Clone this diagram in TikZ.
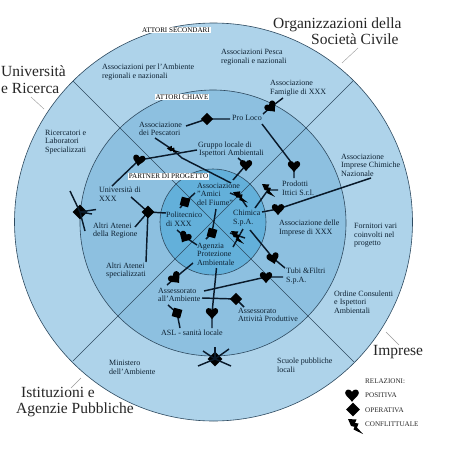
\documentclass[tikz,border=0pt]{standalone}
\usepackage{fontspec}
\setmainfont{Liberation Serif}
\usetikzlibrary{shapes.geometric}
\definecolor{ringA}{HTML}{AED3EA}
\definecolor{ringB}{HTML}{8DC0E0}
\definecolor{ringC}{HTML}{63B0DA}
\definecolor{edgeC}{HTML}{2E4A60}
\definecolor{inkC}{HTML}{0E2233}
\definecolor{lineC}{HTML}{0A1A2A}
\tikzset{
  x=1pt,y=-1pt,
  disc/.style={circle,draw=edgeC,line width=.6pt,inner sep=0pt,minimum size=#1},
  divider/.style={draw=edgeC,line width=.5pt},
  leader/.style={draw=gray!80,line width=.4pt},
  lab/.style={font=\fontsize{8}{8.6}\selectfont,text=inkC,align=left,anchor=west,inner sep=0pt},
  big/.style={font=\fontsize{15.5}{16.6}\selectfont,text=black!85,align=left,anchor=west,inner sep=0pt},
  ring/.style={font=\fontsize{7.1}{8}\selectfont,fill=white,text=black,inner sep=1pt},
  legendt/.style={font=\fontsize{7.1}{8}\selectfont,text=black!85,anchor=west,inner sep=0pt},
  conn/.style={draw=lineC,line width=1.45pt},
  dia/.style={diamond,fill=black,inner sep=0pt,minimum size=#1},
  dia/.default=12.5pt,
  pics/heartp/.style={code={
    \fill[black] (0,6.5) .. controls (-2,3) and (-6.5,1) .. (-6.5,-2) .. controls (-6.5,-5.5) and (-2,-6.5) .. (0,-3) .. controls (2,-6.5) and (6.5,-5.5) .. (6.5,-2) .. controls (6.5,1) and (2,3) .. (0,6.5) -- cycle;}},
  pics/boltp/.style={code={
    \fill[black] (-7,-7) -- (1.5,-6.5) -- (0,-3) -- (3.5,-2.5) -- (2,1.5) -- (8,8) -- (-1.5,3.5) -- (-.5,.8) -- (-4,0) -- cycle;}}
}
\begin{document}
\begin{tikzpicture}
\useasboundingbox (0,0) rectangle (450,450);
\fill[white] (0,0) rectangle (450,450);
% rings
\node[disc=398pt,fill=ringA] (outer) at (213.5,222) {};
\node[disc=266pt,fill=ringB] (middle) at (213,223) {};
\node[disc=106pt,fill=ringC] (inner) at (213,222) {};
% dividers
\coordinate (dA) at (73,81); \coordinate (dB) at (354,362);
\coordinate (dC) at (353,81); \coordinate (dD) at (73,361);
\draw[divider] (dA) -- (dB);
\draw[divider] (dC) -- (dD);
% leaders
\coordinate (l1a) at (31,97); \coordinate (l1b) at (44,109);
\coordinate (l2a) at (358,48); \coordinate (l2b) at (342,63);
\coordinate (l3a) at (386,332); \coordinate (l3b) at (399,345);
\coordinate (l4a) at (81,378); \coordinate (l4b) at (71,388);
\draw[leader] (l1a) -- (l1b);
\draw[leader] (l2a) -- (l2b);
\draw[leader] (l3a) -- (l3b);
\draw[leader] (l4a) -- (l4b);
% big labels
\node[big] (tUni) at (1,79.5) {Università\\e Ricerca};
\node[big] (tOrg) at (273,31) {Organizzazioni della\\\hspace*{38pt}Società Civile};
\node[big] (tImp) at (373,352) {Imprese};
\node[big] (tIst) at (16,402) {\hspace*{5pt}Istituzioni e\\Agenzie Pubbliche};
% ring titles
\node[ring] (rSec) at (176,30) {ATTORI SECONDARI};
\node[ring] (rChi) at (182,97) {ATTORI CHIAVE};
\node[ring] (rPar) at (168.5,176.5) {PARTNER DI PROGETTO};
% outer ring labels
\node[lab] (tAmb) at (102,72) {Associazioni per l'Ambiente\\regionali e nazionali};
\node[lab] (tPes2) at (221,57.5) {Associazioni Pesca\\regionali e nazionali};
\node[lab] (tRic) at (45,142) {Ricercatori e\\Laboratori\\Specializzati};
\node[lab] (tChi) at (341,165) {Associazione\\Imprese Chimiche\\Nazionale};
\node[lab] (tFor) at (354,235.5) {Fornitori vari\\coinvolti nel\\progetto};
\node[lab] (tOrd) at (334,302) {Ordine Consulenti\\e Ispettori\\Ambientali};
\node[lab] (tScu) at (277,365) {Scuole pubbliche\\locali};
\node[lab] (tMin) at (109,367.5) {Ministero\\dell'Ambiente};
% middle ring labels
\node[lab] (tFam) at (270,88.5) {Associazione\\Famiglie di XXX};
\node[lab] (tPro) at (232,118) {Pro Loco};
\node[lab] (tPes) at (139,129) {Associazione\\dei Pescatori};
\node[lab] (tGru) at (198,149.5) {Gruppo locale di\\\hspace*{1pt}Ispettori Ambientali};
\node[lab] (tUnx) at (99,194) {Università di\\XXX};
\node[lab] (tPrd) at (282,188.5) {Prodotti\\Ittici S.r.l.};
\node[lab] (tReg) at (93,230.5) {Altri Atenei\\della Regione};
\node[lab] (tSpe) at (106,270.5) {Altri Atenei\\specializzati};
\node[lab] (tDel) at (279,228) {Associazione delle\\Imprese di XXX};
\node[lab] (tTub) at (286,276) {Tubi \&Filtri\\S.p.A.};
\node[lab] (tAss) at (158,295) {Assessorato\\all'Ambiente};
\node[lab] (tAtt) at (238,315) {Assessorato\\Attività Produttive};
\node[lab] (tAsl) at (161,333) {ASL - sanità locale};
% inner labels
\node[lab] (tAmi) at (197,194) {Associazione\\"Amici\\del Fiume"};
\node[lab] (tPol) at (166,219) {Politecnico\\di XXX};
\node[lab] (tChm) at (233,218) {Chimica\\S.p.A.};
\node[lab] (tAge) at (197,254) {Agenzia\\Protezione\\Ambientale};
% connector ends
\foreach \n/\x/\y in {
 a1/186/126,a2/230/119,
 b1/155/138,b2/182/158,b3/231/183,
 c1/197/150,c2/112/186,
 d1/283/98,d2/263/114,
 e1/262/124,e2/294/178,
 f1/238/158,f2/233/180,
 g1/278/190,g2/255/208,
 h1/230/193,h2/247/207,
 i1/262/212,i2/371/178,
 j1/243/229,j2/233/247,j3/230/233,j4/245/238,
 k1/250/230,k2/285/268,
 l1/283/277,l2/204/291,
 m1/202/298,m2/244/307,
 n1/216/209,n2/206/239,
 o1/195/193,o2/180/208,
 p1/177/230,p2/197/245,
 q1/131/197,q2/146/262,q3/166/213,q4/135/227,
 r1/193/263,r2/167/285,
 s1/168/305,s2/180/328,
 t1/216.5/268,t2/212/328,
 ua/70/191,ub/96/209.5,uc/92/214,ud/85/231,
 va/203/351,vb/215/347,vc/229/349,vd/231/366,ve/198/366,
 Sa/207/119,Sb/173/150,Sc/139/160,Sd/271/107,Se/294/166,
 Sf/246/165,Sg/268/190,Sh/240/197,Si/278/209,Sj/237/237,Sk/273/258,
 Sl/266/277,Sm/236/299,Sn/212/233,So/185/202,Sp/185/237,Sq/148/212,
 Sr/175/278,Ss/177/313,St/212/313}{\coordinate (\n) at (\x,\y);}
% connectors
\draw[conn] (a1) -- (Sa) -- (a2);
\draw[conn] (b1) -- (Sb) -- (b2) -- (b3);
\draw[conn] (c1) -- (Sc) -- (c2);
\draw[conn] (d1) -- (Sd) -- (d2);
\draw[conn] (e1) -- (Se) -- (e2);
\draw[conn] (f1) -- (Sf) -- (f2);
\draw[conn] (g1) -- (Sg) -- (g2);
\draw[conn] (h1) -- (Sh) -- (h2);
\draw[conn] (i1) -- (Si) -- (i2);
\draw[conn] (j1) -- (j2);
\draw[conn] (j3) -- (j4);
\draw[conn] (k1) -- (Sk) -- (k2);
\draw[conn] (l1) -- (Sl) -- (l2);
\draw[conn] (m1) -- (Sm) -- (m2);
\draw[conn] (n1) -- (Sn) -- (n2);
\draw[conn] (o1) -- (So) -- (o2);
\draw[conn] (p1) -- (Sp) -- (p2);
\draw[conn] (q1) -- (Sq) -- (q2);
\draw[conn] (q3) -- (Sq) -- (q4);
\draw[conn] (r1) -- (Sr) -- (r2);
\draw[conn] (s1) -- (Ss) -- (s2);
\draw[conn] (t1) -- (St) -- (t2);
% symbols
\node[dia] (ySa) at (Sa) {};
\pic[scale=.65,rotate=30] at (Sb) {boltp};
\pic[scale=.95,rotate=-10] at (Sc) {heartp};
\pic[scale=.95,rotate=40] at (Sd) {heartp};
\pic[scale=.95] at (Se) {heartp};
\pic[scale=.95,rotate=0] at (Sf) {heartp};
\pic[scale=.85,rotate=0] at (Sg) {boltp};
\pic[scale=.85,rotate=10] at (Sh) {boltp};
\pic[scale=.95] at (Si) {heartp};
\pic[scale=.85] at (Sj) {boltp};
\pic[scale=.95,rotate=15] at (Sk) {heartp};
\pic[scale=.95] at (Sl) {heartp};
\node[dia] (ySm) at (Sm) {};
\node[dia,rotate=30] (ySn) at (Sn) {};
\node[dia,rotate=30] (ySo) at (So) {};
\pic[scale=.95,rotate=-30] at (Sp) {heartp};
\node[dia=13pt] (ySq) at (Sq) {};
\pic[scale=1,rotate=40] at (Sr) {heartp};
\node[dia,rotate=30] (ySs) at (Ss) {};
\pic[scale=.95] at (St) {heartp};
% star nodes
\node[dia=15pt] (starU) at (80,212) {};
\draw[conn] (starU.center) -- (ua);
\draw[conn] (starU.center) -- (ub);
\draw[conn] (starU.center) -- (uc);
\draw[conn] (starU.center) -- (ud);
\node[dia=15pt] (starV) at (215,359) {};
\draw[conn] (starV.center) -- (va);
\draw[conn] (starV.center) -- (vb);
\draw[conn] (starV.center) -- (vc);
\draw[conn] (starV.center) -- (vd);
\draw[conn] (starV.center) -- (ve);
% legend
\node[legendt] (lgT) at (365,381) {RELAZIONI:};
\node[legendt] (lgP) at (365,395) {POSITIVA};
\node[legendt] (lgO) at (365,410) {OPERATIVA};
\node[legendt] (lgC) at (365,424) {CONFLITTUALE};
\coordinate (lgH) at (352,395);
\pic[scale=1.05] at (lgH) {heartp};
\node[dia=14pt] (lgD) at (353,409.5) {};
\coordinate (lgB) at (355,426);
\pic[scale=1] at (lgB) {boltp};
\end{tikzpicture}
\end{document}
